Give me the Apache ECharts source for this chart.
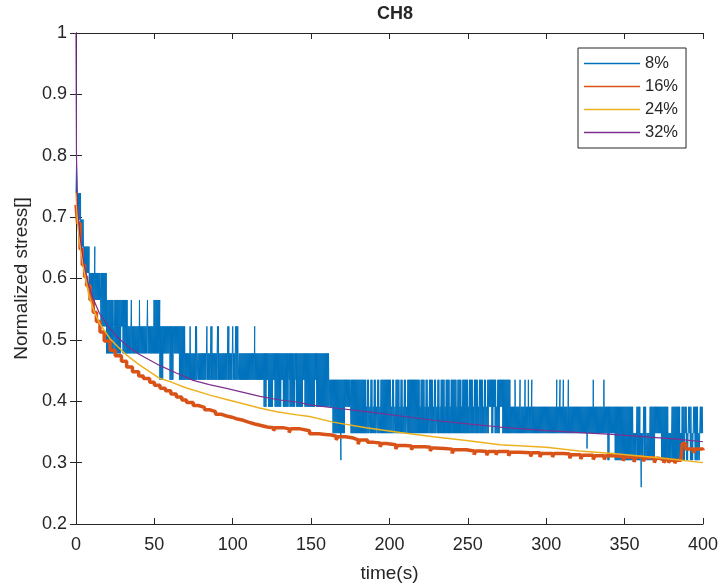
<!DOCTYPE html>
<html>
<head>
<meta charset="utf-8">
<script src="https://cdn.jsdelivr.net/npm/echarts@6/dist/echarts.min.js"></script>
<style>
html, body { margin: 0; padding: 0; background: #fff; }
#chart { width: 721px; height: 588px; }
</style>
</head>
<body>
<div id="chart"></div>
<script>
const FONT = '"Liberation Sans", Arial, sans-serif'
const INK = '#262626'

const seriesNames = ['8%', '16%', '24%', '32%']
const seriesColors = ['#0072BD', '#D95319', '#EDB120', '#7E2F8E']

// 8%: quantised signal. Each run starts at blueRunStart[i] and flickers
// between blueRunLow[i] and blueRunHigh[i] until the next run starts.
const blueRunStart = [
  0, 0.8, 3, 5, 8.5, 16, 19.5, 24, 24.8, 29, 30, 32.3, 33, 35, 35.6, 40.2, 40.8, 45.3, 45.9, 49.5,
  53.5, 55.7, 60, 62, 66, 69, 69.6, 72.5, 73.1, 76, 77.5, 83.2, 83.8, 85.8, 86.8, 90, 91, 96.6,
  97.6, 99.7, 100.3, 101.6, 102.2, 102.9, 103.8, 105.7,
  120, 121.7, 122.9, 125.9, 127, 131.2, 132.3, 135.4, 136.5, 139.7, 140.8, 145, 146.1,
  152.5, 153.6, 161.6, 164, 171.6, 175.5,
  185, 185.7, 187.2, 187.9, 189.3, 190, 191.5, 192.2, 193.6, 194.3, 201, 201.7, 203.2, 203.9,
  206.4, 207.1, 208.5, 209.2, 210.7, 211.4, 219.2, 219.9, 222.4, 223.1, 224.5, 225.2,
  227.7, 228.4, 229.9, 230.6, 232, 232.7, 235.2, 235.9, 238.4, 239.1, 242.7, 243.4,
  245.8, 246.5, 250, 250.7, 253.2, 253.9, 256.4, 257.1, 259.6, 260.3, 261.7, 262.4,
  263.1, 265.3, 266.3, 267.4, 268.1, 268.8, 270.6, 272.3, 277,
  339.4, 340.5, 344, 355.5, 357.6, 359.8, 361.9, 364, 366, 369.4, 373.6, 377.9, 380,
  385.3, 386.4, 388.4, 389.6, 390.6, 392, 392.8, 393.8, 395, 397, 398
]
const blueRunLow = [
  0.739, 0.696, 0.652, 0.609, 0.565, 0.522, 0.478, 0.522, 0.478, 0.522, 0.478, 0.478, 0.478, 0.478, 0.478, 0.478, 0.478, 0.478, 0.478, 0.478,
  0.435, 0.478, 0.435, 0.478, 0.435, 0.435, 0.435, 0.435, 0.435, 0.435, 0.435, 0.435, 0.435, 0.435, 0.435, 0.435, 0.435, 0.435,
  0.435, 0.435, 0.435, 0.478, 0.435, 0.435, 0.435, 0.435,
  0.391, 0.435, 0.391, 0.435, 0.391, 0.435, 0.391, 0.435, 0.391, 0.435, 0.391, 0.435, 0.391,
  0.435, 0.391, 0.391, 0.348, 0.391, 0.348,
  0.348, 0.348, 0.348, 0.348, 0.348, 0.348, 0.348, 0.348, 0.348, 0.348, 0.348, 0.348, 0.348, 0.348,
  0.348, 0.348, 0.348, 0.348, 0.348, 0.348, 0.348, 0.348, 0.348, 0.348, 0.348, 0.348,
  0.348, 0.348, 0.348, 0.348, 0.348, 0.348, 0.348, 0.348, 0.348, 0.348, 0.348, 0.348,
  0.348, 0.348, 0.348, 0.348, 0.348, 0.348, 0.348, 0.348, 0.348, 0.348, 0.348, 0.348,
  0.391, 0.348, 0.391, 0.348, 0.348, 0.348, 0.391, 0.348, 0.348,
  0.304, 0.348, 0.304, 0.304, 0.304, 0.304, 0.304, 0.304, 0.304, 0.348, 0.304, 0.304, 0.304,
  0.304, 0.304, 0.348, 0.304, 0.348, 0.304, 0.304, 0.348, 0.304, 0.304, 0.348
]
const blueRunHigh = [
  0.783, 0.739, 0.696, 0.652, 0.609, 0.609, 0.565, 0.565, 0.565, 0.565, 0.565, 0.565, 0.522, 0.565, 0.522, 0.565, 0.522, 0.565, 0.522, 0.565,
  0.522, 0.522, 0.522, 0.522, 0.522, 0.522, 0.478, 0.522, 0.478, 0.522, 0.478, 0.522, 0.478, 0.522, 0.478, 0.522, 0.478, 0.522,
  0.478, 0.522, 0.478, 0.522, 0.522, 0.522, 0.478, 0.478,
  0.478, 0.478, 0.478, 0.478, 0.478, 0.478, 0.478, 0.478, 0.478, 0.478, 0.478, 0.478, 0.478,
  0.478, 0.478, 0.435, 0.435, 0.435, 0.435,
  0.391, 0.435, 0.391, 0.435, 0.391, 0.435, 0.391, 0.435, 0.391, 0.435, 0.391, 0.435, 0.391, 0.435,
  0.391, 0.435, 0.391, 0.435, 0.391, 0.435, 0.391, 0.435, 0.391, 0.435, 0.391, 0.435,
  0.391, 0.435, 0.391, 0.435, 0.391, 0.435, 0.391, 0.435, 0.391, 0.435, 0.391, 0.435,
  0.391, 0.435, 0.391, 0.435, 0.391, 0.435, 0.391, 0.435, 0.391, 0.435, 0.391, 0.435,
  0.435, 0.435, 0.435, 0.435, 0.391, 0.435, 0.435, 0.435, 0.391,
  0.391, 0.391, 0.391, 0.348, 0.391, 0.348, 0.391, 0.348, 0.391, 0.391, 0.391, 0.348, 0.391,
  0.348, 0.391, 0.391, 0.348, 0.391, 0.391, 0.348, 0.391, 0.391, 0.348, 0.391
]
// single-sample excursions of the 8% signal
const blueSpikeTime = [12, 114, 169, 280.1, 283.3, 286.5, 288.6, 290.8, 306.7, 308.8, 310.9, 314.1, 326, 330, 336.8, 360.6]
const blueSpikeValue = [0.652, 0.522, 0.304, 0.435, 0.435, 0.435, 0.435, 0.435, 0.435, 0.435, 0.435, 0.435, 0.323, 0.435, 0.435, 0.26]

// 16%: staircase with small dips
const orangeTime = [
  0, 1, 2.6, 4, 5.5, 6.8, 9, 11, 13, 15.3, 18, 21.7, 25, 29, 32.3, 36, 40, 43, 47, 50, 53.6,
  57, 60.5, 64, 67.5, 70.5, 74.8, 78, 82, 85.5, 89, 92.5, 96, 99.5, 103, 106.7, 110, 114, 117.4,
  122, 126, 127, 132, 136, 137, 143, 149, 152, 155, 159, 163, 166, 167, 172, 177, 180, 181, 186, 190,
  194, 195, 198, 204, 205, 210, 214, 215, 222.6, 226, 227, 229, 235, 240, 241, 249, 254, 255, 258, 262, 263,
  268, 269, 276, 277, 283, 290, 291, 296, 297, 304, 305, 311, 315, 316, 322, 323, 330, 331, 337, 338,
  343, 349, 350, 356, 357, 362, 363, 369, 370, 372, 375, 376, 378, 379, 382, 383, 386, 386.7, 389, 394, 395, 400
]
const orangeValue = [
  0.72, 0.69, 0.648, 0.622, 0.603, 0.588, 0.565, 0.545, 0.53, 0.513, 0.498, 0.483, 0.474, 0.465, 0.456, 0.448, 0.441, 0.437, 0.431, 0.426, 0.421,
  0.417, 0.412, 0.407, 0.402, 0.398, 0.393, 0.39, 0.386, 0.383, 0.379, 0.376, 0.374, 0.371, 0.369, 0.366, 0.363, 0.361, 0.358,
  0.357, 0.352, 0.357, 0.355, 0.349, 0.355, 0.352, 0.347, 0.347, 0.346, 0.345, 0.343, 0.337, 0.342, 0.34, 0.337, 0.33, 0.337, 0.333, 0.332,
  0.326, 0.331, 0.329, 0.322, 0.328, 0.327, 0.321, 0.326, 0.325, 0.319, 0.324, 0.323, 0.322, 0.315, 0.321, 0.319, 0.313, 0.319, 0.318, 0.312, 0.318,
  0.313, 0.318, 0.311, 0.317, 0.316, 0.31, 0.316, 0.309, 0.315, 0.309, 0.315, 0.314, 0.307, 0.313, 0.306, 0.312, 0.305, 0.311, 0.305, 0.311,
  0.31, 0.303, 0.309, 0.301, 0.309, 0.302, 0.308, 0.3, 0.307, 0.305, 0.3, 0.305, 0.3, 0.304, 0.299, 0.304, 0.305, 0.331, 0.322, 0.316, 0.322, 0.32
]

// 24%
const yellowTime = [0, 1, 2.6, 5, 8, 11, 15, 21.7, 27, 32.3, 40, 53.6, 60, 70, 85.5, 96, 106.7, 117, 128, 143, 149, 164, 185, 206.7, 228, 249, 270.5, 300, 321, 342.6, 374.6, 400]
const yellowValue = [0.74, 0.69, 0.655, 0.615, 0.575, 0.55, 0.527, 0.502, 0.488, 0.475, 0.46, 0.437, 0.432, 0.422, 0.41, 0.403, 0.396, 0.389, 0.383, 0.377, 0.375, 0.366, 0.357, 0.349, 0.342, 0.336, 0.329, 0.325, 0.319, 0.315, 0.307, 0.3]

// 32%
const purpleTime = [0, 0.3, 1, 2.5, 5, 8, 11, 15, 21.7, 27, 32.3, 40, 53.6, 64, 74.8, 85, 96, 106, 117.4, 130, 143, 149, 165, 185.5, 207, 228, 250, 270.5, 300, 321.5, 342, 364, 385, 400]
const purpleValue = [1.0, 0.8, 0.72, 0.67, 0.625, 0.59, 0.567, 0.543, 0.518, 0.503, 0.491, 0.477, 0.458, 0.446, 0.434, 0.427, 0.421, 0.415, 0.408, 0.402, 0.398, 0.394, 0.389, 0.383, 0.376, 0.369, 0.363, 0.358, 0.352, 0.349, 0.346, 0.342, 0.338, 0.334]

const pairs = (ts, vs) => ts.map((t, i) => [t, vs[i]])

function flicker(starts, lows, highs, end, dt) {
  const pts = []
  for (let i = 0; i < starts.length; i++) {
    const t1 = i + 1 < starts.length ? starts[i + 1] : end
    let k = 0
    for (let t = starts[i]; t < t1 - 1e-9; t += dt, k++) {
      pts.push([t, k % 2 ? highs[i] : lows[i]])
    }
  }
  return pts
}

const bluePts = flicker(blueRunStart, blueRunLow, blueRunHigh, 400, 0.3)
  .concat(pairs(blueSpikeTime, blueSpikeValue))
  .sort((a, b) => a[0] - b[0])

const chart = echarts.init(document.getElementById('chart'))

const axisCommon = {
  type: 'value',
  axisLine: { show: true, lineStyle: { color: INK, width: 1 } },
  axisTick: { show: true, inside: true, length: 6, lineStyle: { color: INK } },
  splitLine: { show: false },
  axisLabel: { color: INK, fontSize: 18, fontFamily: FONT },
}

const lineSeries = (i, data, width, extra) => ({
  name: seriesNames[i],
  type: 'line',
  data,
  symbol: 'none',
  itemStyle: { color: seriesColors[i] },
  lineStyle: { width, color: seriesColors[i] },
  ...extra,
})

chart.setOption({
  animation: false,
  backgroundColor: '#fff',
  color: seriesColors,
  title: {
    text: 'CH8',
    left: 390,
    top: 0,
    textAlign: 'center',
    textStyle: { fontSize: 18, fontWeight: 'bold', color: INK, fontFamily: FONT },
  },
  grid: { left: 76, right: 18, top: 33, bottom: 62, containLabel: false },
  legend: {
    orient: 'vertical',
    left: 578,
    top: 48,
    padding: [7, 8, 7, 6],
    icon: 'rect',
    itemWidth: 56,
    itemHeight: 1.5,
    itemGap: 6,
    borderColor: INK,
    borderWidth: 1,
    backgroundColor: '#fff',
    textStyle: { fontSize: 16.5, color: INK, fontFamily: FONT },
    data: seriesNames.map((name, i) => ({ name, itemStyle: { color: seriesColors[i] } })),
  },
  xAxis: [
    {
      ...axisCommon,
      min: 0, max: 400, interval: 50,
      name: 'time(s)',
      nameLocation: 'middle',
      nameGap: 40,
      nameTextStyle: { fontSize: 19, color: INK, fontFamily: FONT },
      axisLabel: { ...axisCommon.axisLabel, margin: 12 },
    },
    { ...axisCommon, position: 'top', min: 0, max: 400, interval: 50, axisLabel: { show: false } },
  ],
  yAxis: [
    {
      ...axisCommon,
      min: 0.2, max: 1, interval: 0.1,
      name: 'Normalized stress[]',
      nameLocation: 'middle',
      nameGap: 44,
      nameTextStyle: { fontSize: 19, color: INK, fontFamily: FONT },
      axisLabel: { ...axisCommon.axisLabel, margin: 9 },
    },
    { ...axisCommon, position: 'right', min: 0.2, max: 1, interval: 0.1, axisLabel: { show: false } },
  ],
  series: [
    lineSeries(0, bluePts, 1, { sampling: null }),
    lineSeries(1, pairs(orangeTime, orangeValue), 3.5, { step: 'end' }),
    lineSeries(2, pairs(yellowTime, yellowValue), 1.5),
    lineSeries(3, pairs(purpleTime, purpleValue), 1.2),
  ],
})
</script>
</body>
</html>
